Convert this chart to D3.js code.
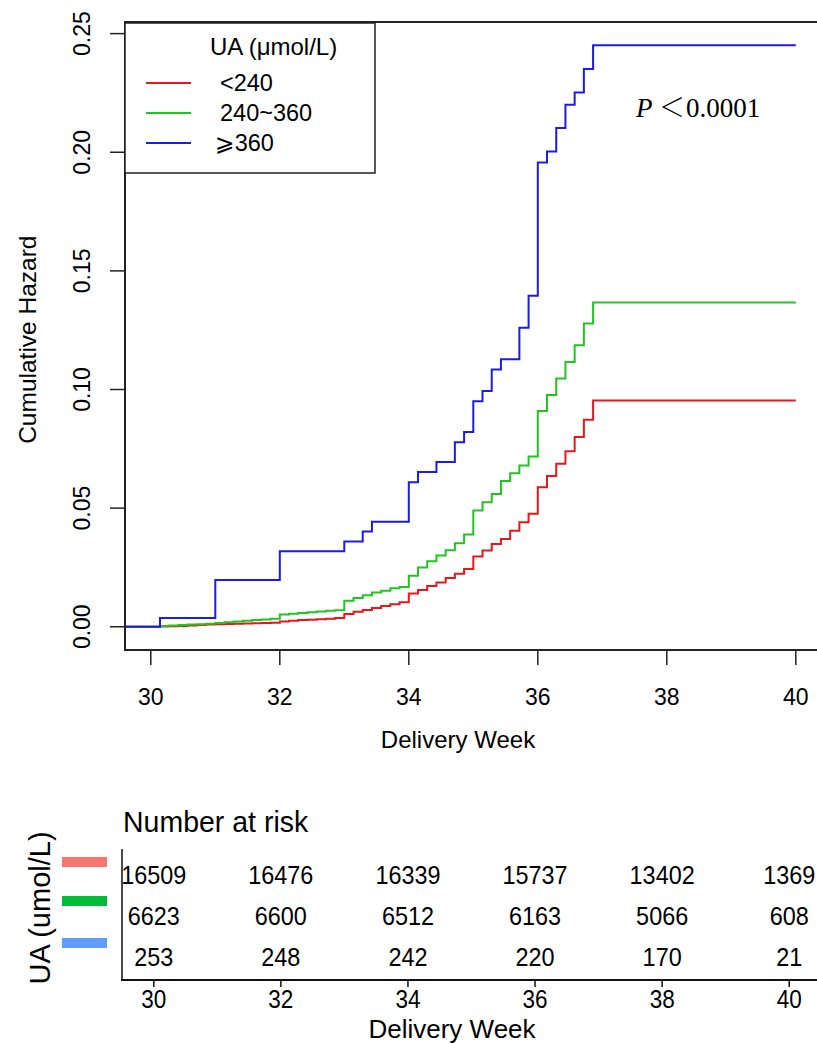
<!DOCTYPE html>
<html>
<head>
<meta charset="utf-8">
<script src="https://cdn.jsdelivr.net/npm/d3@7"></script>
<style>
  html, body { margin: 0; padding: 0; background: #fff; }
  svg { display: block; }
  text { font-family: "Liberation Sans", Arial, sans-serif; fill: #000; }
</style>
</head>
<body>
<svg id="chart" width="817" height="1044"></svg>
<script>
// ---------------- DATA ----------------
// gestational age in days (210 = week 30)
const redDays   = [210,211,212,213,214,215,216,217,218,219,220,221,222,223,224,225,226,227,228,229,230,231,232,233,234,235,236,237,238,239,240,241,242,243,244,245,246,247,248,249,250,251,252,253,254,255,256,257,258];
const redHaz    = [0,0.0001,0.0002,0.0003,0.0005,0.0007,0.0009,0.0011,0.0012,0.0013,0.0014,0.0015,0.0016,0.0017,0.0022,0.0025,0.0028,0.0030,0.0032,0.0034,0.0037,0.0054,0.0063,0.0071,0.0079,0.0087,0.0095,0.0103,0.0140,0.0155,0.0172,0.0187,0.0206,0.0223,0.0243,0.0296,0.0321,0.0349,0.0370,0.0405,0.0440,0.0476,0.0588,0.0635,0.0687,0.0740,0.0800,0.0873,0.0954];
const greenDays = [210,211,212,213,214,215,216,217,218,219,220,221,222,223,224,225,226,227,228,229,230,231,232,233,234,235,236,237,238,239,240,241,242,243,244,245,246,247,248,249,250,251,252,253,254,255,256,257,258];
const greenHaz  = [0,0.0003,0.0005,0.0007,0.0009,0.0011,0.0013,0.0016,0.0019,0.0022,0.0025,0.0028,0.0031,0.0034,0.0052,0.0055,0.0058,0.0061,0.0064,0.0067,0.0070,0.0110,0.0121,0.0133,0.0144,0.0152,0.0162,0.0168,0.0215,0.0250,0.0276,0.0300,0.0322,0.0352,0.0389,0.0490,0.0525,0.0560,0.0614,0.0647,0.0680,0.0718,0.0909,0.0977,0.1046,0.1116,0.1187,0.1278,0.1367];
const blueDays  = [210,211,217,224,231,233,234,238,239,241,243,244,245,246,247,248,250,251,252,253,254,255,256,257,258];
const blueHaz   = [0,0.0037,0.0197,0.0318,0.0359,0.0401,0.0443,0.0609,0.0652,0.0694,0.0778,0.0821,0.0951,0.0994,0.1084,0.1128,0.1260,0.1395,0.1957,0.2003,0.2102,0.2200,0.2252,0.2351,0.2451];

const groupLabels = ["<240", "240~360", "\u2A7E360"];
const xTicks = [30, 32, 34, 36, 38, 40];
const yTicks = [0, 0.05, 0.10, 0.15, 0.20, 0.25];
const riskTimes = [30, 32, 34, 36, 38, 40];
const riskRed   = [16509, 16476, 16339, 15737, 13402, 1369];
const riskGreen = [6623, 6600, 6512, 6163, 5066, 608];
const riskBlue  = [253, 248, 242, 220, 170, 21];
const endWeek = 40;

// ---------------- DRAW ----------------
const svg = d3.select("#chart");
const lineCols = ["#e8171c", "#22c322", "#1c1ce6"];
const barCols  = ["#F8766D", "#00BA38", "#619CFF"];

const x = d3.scaleLinear().domain([29.6, 40.4]).range([125, 821.6]);
const y = d3.scaleLinear().domain([-0.0098, 0.2549]).range([650, 22]);

// curves
const series = [
  {days: redDays, haz: redHaz},
  {days: greenDays, haz: greenHaz},
  {days: blueDays, haz: blueHaz}
];
const line = d3.line().x(d => x(d[0])).y(d => y(d[1])).curve(d3.curveStepAfter);
series.forEach((s, i) => {
  const pts = [[x.domain()[0], 0]];
  s.days.forEach((d, j) => pts.push([d / 7, s.haz[j]]));
  pts.push([endWeek, s.haz[s.haz.length - 1]]);
  svg.append("path").attr("d", line(pts)).attr("fill", "none")
    .attr("stroke", lineCols[i]).attr("stroke-width", 2);
});

// box
svg.append("rect").attr("x", 125).attr("y", 22).attr("width", 700).attr("height", 628)
  .attr("fill", "none").attr("stroke", "#222").attr("stroke-width", 2);

// y axis ticks
const yAx = svg.append("g");
yTicks.forEach(t => {
  yAx.append("line").attr("x1", 110).attr("x2", 125).attr("y1", y(t)).attr("y2", y(t))
    .attr("stroke", "#222").attr("stroke-width", 1.5);
  yAx.append("text").attr("transform", `translate(82,${y(t)}) rotate(-90)`)
    .attr("text-anchor", "middle").attr("dy", "0.35em").attr("font-size", 23)
    .text(d3.format(".2f")(t));
});
svg.append("text").attr("transform", `translate(27,${y(0.121)}) rotate(-90)`)
  .attr("text-anchor", "middle").attr("dy", "0.35em").attr("font-size", 24.5)
  .text("Cumulative Hazard");

// x axis ticks
xTicks.forEach(t => {
  svg.append("line").attr("x1", x(t)).attr("x2", x(t)).attr("y1", 650).attr("y2", 665)
    .attr("stroke", "#222").attr("stroke-width", 1.5);
  svg.append("text").attr("x", x(t)).attr("y", 697).attr("dy", "0.35em")
    .attr("text-anchor", "middle").attr("font-size", 23).text(t);
});
svg.append("text").attr("x", 458).attr("y", 740).attr("dy", "0.35em")
  .attr("text-anchor", "middle").attr("font-size", 24).text("Delivery Week");

// legend
svg.append("rect").attr("x", 125).attr("y", 23).attr("width", 250).attr("height", 150)
  .attr("fill", "#fff").attr("stroke", "#222").attr("stroke-width", 1.5);
svg.append("text").attr("x", 210).attr("y", 47).attr("dy", "0.35em").attr("font-size", 24)
  .text("UA (\u03BCmol/L)");
const legY = [83, 113, 143];
groupLabels.forEach((lab, i) => {
  svg.append("line").attr("x1", 146).attr("x2", 191).attr("y1", legY[i]).attr("y2", legY[i])
    .attr("stroke", lineCols[i]).attr("stroke-width", 2);
  svg.append("text").attr("x", i === 2 ? 215 : 220).attr("y", legY[i]).attr("dy", "0.35em")
    .attr("font-size", 23.5)
    .style("font-family", '"Liberation Sans", "DejaVu Sans", "Noto Sans CJK SC", sans-serif')
    .text(lab);
});

// p value
svg.append("text").attr("x", 636).attr("y", 117).attr("font-size", 27)
  .style("font-family", '"Liberation Serif", "Times New Roman", serif').style("font-style", "italic")
  .text("P");
svg.append("text").attr("x", 672).attr("y", 117).attr("font-size", 26).attr("text-anchor", "middle")
  .style("font-family", '"Noto Sans CJK SC", sans-serif').style("font-weight", 300)
  .text("\uFF1C");
svg.append("text").attr("x", 686).attr("y", 117).attr("font-size", 27)
  .style("font-family", '"Liberation Serif", "Times New Roman", serif')
  .text("0.0001");

// ---------------- risk table ----------------
const xr = d3.scaleLinear().domain([29.5, 40.5]).range([122, 821]);
svg.append("text").attr("transform", "translate(123,832) scale(0.95,1)").attr("font-size", 30).text("Number at risk");
svg.append("line").attr("x1", 122).attr("x2", 122).attr("y1", 849).attr("y2", 981)
  .attr("stroke", "#111").attr("stroke-width", 1.5);
svg.append("line").attr("x1", 121).attr("x2", 817).attr("y1", 980).attr("y2", 980)
  .attr("stroke", "#111").attr("stroke-width", 2);
const rows = [riskRed, riskGreen, riskBlue];
const rowY = [875, 916, 957];
const barY = [862, 901, 943];
rows.forEach((r, i) => {
  r.forEach((v, j) => {
    svg.append("text").attr("transform", `translate(${xr(riskTimes[j])},${rowY[i]}) scale(0.9,1)`)
      .attr("text-anchor", "middle").attr("dy", "0.35em").attr("font-size", 26).text(v);
  });
  svg.append("rect").attr("x", 62).attr("y", barY[i] - 5).attr("width", 45).attr("height", 10)
    .attr("fill", barCols[i]);
});
riskTimes.forEach(t => {
  svg.append("line").attr("x1", xr(t)).attr("x2", xr(t)).attr("y1", 980).attr("y2", 987)
    .attr("stroke", "#111").attr("stroke-width", 1.5);
  svg.append("text").attr("transform", `translate(${xr(t)},999) scale(0.9,1)`)
    .attr("text-anchor", "middle").attr("dy", "0.35em").attr("font-size", 25).text(t);
});
svg.append("text").attr("x", 452).attr("y", 1029).attr("dy", "0.35em")
  .attr("text-anchor", "middle").attr("font-size", 26).text("Delivery Week");
svg.append("text").attr("transform", "translate(40,908) rotate(-90)")
  .attr("text-anchor", "middle").attr("dy", "0.35em").attr("font-size", 29).text("UA (umol/L)");
</script>
</body>
</html>
